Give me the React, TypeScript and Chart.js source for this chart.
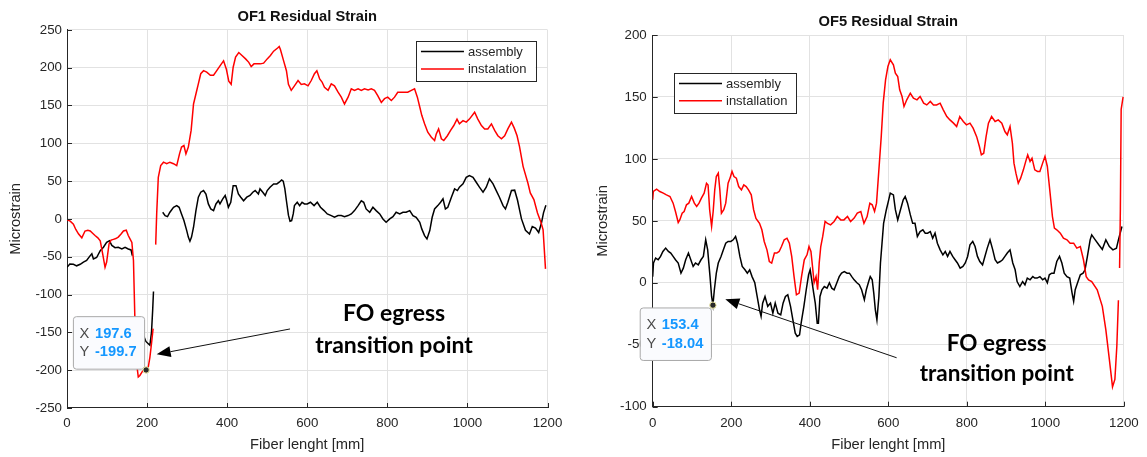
import React, { useEffect, useRef } from "react";
import { Chart, registerables } from "chart.js";

Chart.register(...registerables);

const AXIS_FONT = "'Liberation Sans', Arial, Helvetica, sans-serif";
const NOTE_FONT = "Lato, 'Open Sans', 'Noto Sans', sans-serif";
const INK = "#262626";
const GRID = "#e2e2e2";

// ---------------- shared axes ----------------
const X_TICKS = [0, 200, 400, 600, 800, 1000, 1200];
const X_LABEL = "Fiber lenght [mm]";
const Y_LABEL = "Microstrain";
const NOTE_LINES = ["FO egress", "transition point"];

// ---------------- OF1 ----------------
const OF1_TITLE = "OF1 Residual Strain";
const OF1_LABELS = ["assembly", "instalation"];
const OF1_Y_TICKS = [-250, -200, -150, -100, -50, 0, 50, 100, 150, 200, 250];
const OF1_TIP = [197.6, -199.7];

const OF1_ASSEMBLY_X = [
  0, 7, 16, 24, 33, 41, 49, 58, 62, 66,
  74, 83, 91, 99, 106, 112, 120, 128, 137, 145,
  153, 160, 163, 165, 192, 197, 203, 207, 211, 214,
  216, 228, 239, 245, 251, 257, 266, 274, 280, 286,
  292, 299, 303, 307, 311, 316, 322, 328, 334, 341,
  347, 353, 359, 366, 372, 378, 382, 389, 395, 399,
  403, 409, 415, 422, 428, 434, 441, 449, 457, 464,
  470, 478, 482, 489, 495, 500, 507, 516, 524, 530,
  536, 540, 544, 548, 553, 557, 561, 565, 568, 575,
  581, 587, 593, 600, 608, 617, 625, 633, 642, 650,
  660, 668, 677, 685, 693, 702, 710, 718, 727, 735,
  741, 747, 756, 764, 772, 781, 789, 797, 806, 814,
  822, 831, 839, 847, 856, 864, 872, 881, 886, 893,
  899, 906, 912, 918, 926, 933, 939, 945, 951, 960,
  968, 975, 980, 989, 997, 1005, 1014, 1022, 1030, 1039,
  1047, 1055, 1064, 1072, 1080, 1089, 1095, 1101, 1110, 1118,
  1125, 1135, 1145, 1155, 1162, 1170, 1178, 1185, 1190, 1196,
];
const OF1_ASSEMBLY_Y = [
  -64, -59.5, -60, -62, -60, -57, -55, -48.5, -46, -53,
  -51, -42, -37.5, -31, -29, -35, -38, -37.5, -39.7, -37.5,
  -39.7, -41, -48.5, null, -155, -162, -165, -167, -150, -120,
  -96, null, 8.8, 4.4, 3, 8.8, 15.4, 17.6, 15.4, 6.6,
  -2.2, -15.4, -24, -29.5, -24, -11, 11, 28.7, 35.3, 37.5,
  33, 19.8, 13.2, 11, 19.8, 24, 19.8, 26.5, 31, 24,
  15.4, 22, 44, 44, 33, 28.7, 24, 28.7, 31, 35.3,
  37.5, 33, 39.7, 35.3, 31, 37.5, 42, 46.3, 46.3, 48.5,
  51.6, 50, 40, 24, 5, -3, -2.2, 6.6, 17.6, 22,
  17.6, 22, 19.8, 19.8, 22, 17.6, 22, 15.4, 11, 6.6,
  4.4, 2.2, 4.4, 4.4, 3, 4.4, 6.6, 11, 17.6, 24,
  22, 13.2, 8.8, 15.4, 11, 6.6, 0, -4.4, 0, 3,
  8.8, 6.6, 8.8, 8.8, 11, 4.4, 2.2, -4.4, -13.2, -22,
  -26.5, -15.4, 2.2, 13.2, 17.6, 22, 26.5, 13.2, 15.4, 28.7,
  39.7, 37.5, 42, 46.3, 55, 57.3, 55, 48.5, 42, 35.3,
  42, 53, 46.3, 37.5, 28.7, 17.6, 13.2, 22, 37.5, 38,
  25, 0, -15, -20, -10, -12, -18, -5, 8, 18,
];

const OF1_INSTALL_X = [
  0, 8, 16, 22, 29, 37, 45, 52, 58, 64,
  70, 77, 83, 89, 95, 99, 105, 110, 116, 122,
  128, 135, 141, 148, 153, 158, 162, 166, 168, 170,
  173, 178, 182, 189, 197, 203, 207, 211, 215, 218,
  221.5, 224, 228, 234, 241, 249, 257, 266, 274, 281,
  286, 292, 297, 303, 310, 316, 323, 328, 334, 341,
  349, 358, 366, 374, 383, 391, 398, 404, 410, 415,
  421, 429, 437, 446, 454, 460, 467, 475, 483, 491,
  500, 508, 516, 526, 530, 533, 541, 548, 553, 560,
  568, 577, 585, 593, 602, 610, 618, 624, 631, 637,
  643, 652, 660, 668, 677, 685, 693, 702, 710, 718,
  727, 735, 743, 752, 760, 768, 776, 785, 793, 801,
  810, 818, 826, 835, 843, 851, 860, 868, 875, 881,
  886, 893, 901, 910, 918, 922, 928, 935, 941, 950,
  958, 966, 974, 980, 989, 997, 1005, 1018, 1026, 1035,
  1043, 1051, 1060, 1068, 1076, 1085, 1093, 1101, 1110, 1117,
  1124, 1130, 1139, 1151, 1157, 1166, 1175, 1184, 1189, 1195,
];
const OF1_INSTALL_Y = [
  -1, -3, -7, -14, -20, -25, -16, -15, -16, -19,
  -22, -25, -29, -46, -64, -57, -33, -28, -27, -26,
  -24, -20, -16, -15, -22, -27, -31, -55, -99, -143,
  -187, -209, -207, -201, -198, -196, -183, -165, -145, null,
  -34, 7, 55, 70.5, 75, 73, 75, 73, 70.5, 86,
  95, 97, 86, 95, 117, 152, 167.5, 178.6, 192, 196,
  194, 190, 190, 196, 203, 209, 198, 182, 178, 200.6,
  214, 220, 216, 211.6, 207, 201.5, 205, 205, 205, 206,
  211.6, 216, 221.8, 226, 228, 224, 209, 196, 178, 170,
  176, 183, 177.7, 178.6, 176, 183, 192, 196, 185, 181,
  174, 170, 178.6, 176, 167.5, 161, 152, 161, 172, 170,
  172, 170, 172, 170.6, 172, 170, 163, 154, 159, 161,
  156.5, 161, 167.5, 167.5, 167.5, 167.5, 170, 172, 161, 148,
  137, 125.7, 114.6, 108, 103.6, 112, 119, 106, 103.6, 110,
  117, 123.5, 132, 125.7, 130, 128, 132, 141, 132, 123.5,
  119, 119, 125.7, 117, 110, 106, 110, 119, 128, 120,
  110, 96, 69.5, 47.5, 34.3, 25.5, 7.9, -5, -14.5, -66,
];

// ---------------- OF5 ----------------
const OF5_TITLE = "OF5 Residual Strain";
const OF5_LABELS = ["assembly", "installation"];
const OF5_Y_TICKS = [-100, -50, 0, 50, 100, 150, 200];
const OF5_TIP = [153.4, -18.04];

const OF5_ASSEMBLY_X = [
  0, 2, 7.5, 14, 20, 26, 33, 40, 46, 52,
  58, 65, 72, 78, 84, 91, 97, 103, 109, 116,
  123, 129, 135, 140, 146, 150, 153.4, 157, 162, 167,
  174, 180, 186, 192, 199, 205, 211, 216, 222, 228,
  235, 241, 247, 253, 260, 266, 272, 276, 280, 286,
  293, 300, 306, 312, 319, 326, 332, 338, 344, 351,
  357, 363, 368, 374, 378, 385, 391, 397, 401, 405,
  410, 414, 419, 422, 426, 431, 437, 444, 450, 456,
  462, 469, 475, 481, 488, 495, 501, 507, 513, 520,
  526, 532, 539, 544, 550, 554, 559, 563, 567, 571,
  576, 580, 584, 588, 595, 601, 605, 613, 618, 624,
  631, 638, 643, 649, 656, 662, 668, 674, 681, 688,
  694, 700, 707, 713, 719, 725, 732, 739, 745, 751,
  757, 764, 770, 776, 783, 790, 796, 802, 808, 815,
  821, 827, 833, 840, 846, 852, 859, 866, 872, 878,
  885, 891, 897, 903, 910, 917, 923, 928, 935, 942,
  948, 954, 961, 968, 973, 979, 986, 993, 999, 1005,
  1010, 1016, 1022, 1029, 1036, 1042, 1048, 1055, 1062, 1068,
  1072, 1076, 1082, 1089, 1096, 1101, 1107, 1114, 1118, 1127,
  1136, 1145, 1154, 1163, 1172, 1181, 1186, 1195,
];
const OF5_ASSEMBLY_Y = [
  5, 16, 20, 18.6, 21.3, 25.3, 28, 25.3, 24, 21.3,
  18.6, 16, 7.8, 11.8, 18.6, 24, 18.6, 13.2, 16, 14.5,
  18.6, 21.3, 34.7, 26.6, 5, -11, -18.04, -5.6, 7.8, 16,
  21.3, 26.6, 32, 33.4, 33.4, 34.7, 37.4, 32, 21.3, 13.2,
  10.5, 7.8, 10.5, 5, 0, -11, -21.8, -27, -16.4, -11,
  -19, -16.4, -24.5, -16.4, -24.5, -25.8, -16.4, -11, -9.7, -19,
  -29.9, -40.6, -43.3, -42, -32.6, -19, -5.6, 6.5, 10.5, 2.4,
  -8.3, -16.4, -32.6, -32.6, -11, -5.6, -3, -4.3, 0, -4.3,
  -5.6, 0, 5, 7.8, 9.1, 7.8, 7.8, 5, 2.4, 0,
  -1.6, -5.6, -13.7, -5.6, 1, 5, 2.4, -8.3, -21.8, -29.9,
  -11, 16, 32, 48, 59, 67, 72.4, 71, 59, 50.8,
  59, 67, 69.7, 64.3, 55, 48, 48, 37.4, 41.4, 42.8,
  40.1, 40.1, 41.4, 36, 40.1, 32, 26.6, 22.6, 25.3, 21.3,
  25.3, 21.3, 18.6, 16, 11.8, 13.2, 16, 21.3, 30.7, 33.4,
  29.3, 21.3, 17.2, 14.5, 21.3, 28, 34.7, 26.6, 18.6, 16,
  17.2, 18.6, 21.3, 24, 26.6, 16, 10.5, 1, -3, 1,
  -1.6, 3.8, 2.4, 5, 3.8, 3.8, 5, 2.4, 3.8, 0,
  6.5, 7.8, 7.8, 17.2, 21.3, 16, 7.8, 5, 3.8, -8.3,
  -15, -5.6, 0, 6.5, 7.8, 10.5, 21.3, 34.7, 38.7, 34.7,
  30.7, 27, 34.7, 29.3, 26.6, 28, 34.7, 45.5,
];

const OF5_INSTALL_X = [
  0, 1.6, 10, 18, 27, 35, 44, 52, 58, 65,
  69, 75, 80, 86, 92, 99, 106, 112, 118, 124,
  131, 137, 141, 145, 150, 154, 158, 162, 167, 171,
  175, 181, 186, 192, 197, 202, 207, 213, 219, 226,
  232, 238, 244, 251, 257, 263, 272, 278, 284, 291,
  297, 303, 310, 316, 322, 328, 335, 342, 348, 354,
  360, 366, 373, 379, 386, 393, 398, 403, 407, 411,
  416, 420, 424, 428, 433, 439, 445, 453, 462, 470,
  479, 487, 496, 504, 513, 521, 530, 538, 546, 553,
  559, 565, 570, 576, 582, 587, 593, 599, 605, 613,
  618, 624, 629, 635, 640, 647, 656, 664, 673, 681,
  690, 698, 707, 715, 723, 732, 740, 749, 757, 766,
  774, 782, 791, 799, 808, 816, 825, 832, 837, 843,
  849, 855, 863, 872, 880, 889, 897, 903, 910, 916,
  920, 925, 931, 937, 944, 950, 955, 961, 966, 973,
  980, 986, 993, 999, 1005, 1012, 1018, 1023, 1029, 1038,
  1046, 1055, 1063, 1072, 1080, 1089, 1097, 1104, 1110, 1118,
  1132, 1145, 1154, 1163, 1171, 1177, 1182, 1186, 1187.5, 1189,
  1191, 1193, 1196, 1198,
];
const OF5_INSTALL_Y = [
  67, 73.7, 75.6, 73.7, 72.4, 71, 69.7, 64.3, 57.6, 48.7,
  50.8, 56.2, 57.6, 63, 64.3, 69.7, 64.3, 61.6, 64.3, 68.3,
  72.4, 80.4, 79, 59, 45.5, 57.6, 75, 85.8, 88.5, 75,
  56.2, 59, 64.3, 80.4, 84.5, 89.9, 85.8, 84.5, 77.7, 75,
  79, 77.7, 75, 71, 59, 52, 48, 42.8, 33.4, 26.6,
  17.2, 15.9, 24, 24, 25.3, 29.3, 34.7, 36, 32, 21.3,
  5, -9.7, -8.3, 5, 18.6, 22.6, 29.3, 25.3, 13.2, 0,
  5, -5.6, 15.9, 29.3, 37.4, 49.5, 48, 46.8, 49.5, 53.5,
  50.8, 50.8, 53.5, 49.5, 52.2, 56.2, 57.6, 48, 53.5, 64.3,
  63, 57.6, 64.3, 91.2, 118, 145, 163.8, 174.6, 180, 176,
  169.3, 166.5, 155.8, 150.4, 142.3, 147.7, 153, 149, 147.7, 150.4,
  145, 143.6, 146.4, 143.6, 143.6, 145, 139.6, 134.2, 131.5, 128.9,
  126.2, 134.2, 130.2, 127.5, 128.9, 124.8, 118, 110, 103.3, 104.6,
  118, 128.9, 134.2, 130.2, 131.5, 128.9, 122.1, 119.5, 126.2, 112.7,
  96.6, 88.5, 80.4, 84.5, 91.2, 98, 103.3, 98, 100.6, 91.2,
  89.9, 89.9, 96.6, 102, 93.9, 72.4, 53.5, 44.1, 42.8, 40.1,
  36, 34.7, 32, 32, 28, 29.3, 18.6, 5, 2.4, 1,
  -5.6, -19, -38, -62, -84, -78, -51, -14, null, 12,
  60, 140, 146, 150,
];

// ---------------- layout / styling (not data) ----------------
type Spec = {
  title: string;
  labels: string[];
  series: [number[], (number | null)[], string][];
  yTicks: number[];
  tip: number[];
  canvasW: number;
  axisW: number;
  padRight: number;
  titlePad: { top: number; bottom: number };
  axisH: number;
  xTickPad: number;
  yTickPad: number;
  yTitlePad: number;
  legend: { corner: "ne" | "nw"; dx: number; dy: number };
  tipPlace: "above" | "below";
  arrow: number[]; // data coords: from x, from y, to x, to y
  note: { x: number; ys: number[]; size: number };
};

const OF1_SPEC: Spec = {
  title: OF1_TITLE,
  labels: OF1_LABELS,
  series: [
    [OF1_ASSEMBLY_X, OF1_ASSEMBLY_Y, "#000000"],
    [OF1_INSTALL_X, OF1_INSTALL_Y, "#ff0000"],
  ],
  yTicks: OF1_Y_TICKS,
  tip: OF1_TIP,
  canvasW: 585,
  axisW: 67,
  padRight: 37.5,
  titlePad: { top: 8.2, bottom: 4 },
  axisH: 49,
  xTickPad: 7,
  yTickPad: 5,
  yTitlePad: 7.5,
  legend: { corner: "ne", dx: 12, dy: 11 },
  tipPlace: "above",
  arrow: [557, -145.5, 224, -179],
  note: { x: 816.7, ys: [-134.5, -177.2], size: 23 },
};

const OF5_SPEC: Spec = {
  title: OF5_TITLE,
  labels: OF5_LABELS,
  series: [
    [OF5_ASSEMBLY_X, OF5_ASSEMBLY_Y, "#000000"],
    [OF5_INSTALL_X, OF5_INSTALL_Y, "#ff0000"],
  ],
  yTicks: OF5_Y_TICKS,
  tip: OF5_TIP,
  canvasW: 562,
  axisW: 67.7,
  padRight: 20.5,
  titlePad: { top: 13.4, bottom: 4 },
  axisH: 50.3,
  xTickPad: 8.3,
  yTickPad: 6,
  yTitlePad: 9,
  legend: { corner: "nw", dx: 21.3, dy: 37.7 },
  tipPlace: "below",
  arrow: [621.2, -60.5, 184.9, -13.2],
  note: { x: 876.2, ys: [-55.4, -79.1], size: 22.5 },
};

function pts(xs: number[], ys: (number | null)[]) {
  return xs.map((x, i) => ({ x, y: ys[i] }));
}

function notesPlugin(spec: Spec) {
  return {
    id: "notes",
    afterDraw(chart: any) {
      const { ctx, chartArea: a } = chart;
      const xs = chart.scales.x;
      const ys = chart.scales.y;
      ctx.save();

      // inward tick marks (MATLAB style)
      ctx.strokeStyle = INK;
      ctx.lineWidth = 1;
      ctx.beginPath();
      xs.ticks.forEach((t: any) => {
        const p = Math.round(xs.getPixelForValue(t.value)) + 0.5;
        ctx.moveTo(p, a.bottom);
        ctx.lineTo(p, a.bottom - 5);
      });
      ys.ticks.forEach((t: any) => {
        const p = Math.round(ys.getPixelForValue(t.value)) + 0.5;
        ctx.moveTo(a.left, p);
        ctx.lineTo(a.left + 5, p);
      });
      ctx.stroke();

      // legend
      ctx.font = `13px ${AXIS_FONT}`;
      const ds = chart.data.datasets;
      const tw = Math.max(...ds.map((d: any) => ctx.measureText(d.label).width));
      const lw = 5 + 43 + 4 + tw + 9;
      const lh = 40;
      const lx = spec.legend.corner === "ne" ? a.right - spec.legend.dx - lw : a.left + spec.legend.dx;
      const ly = a.top + spec.legend.dy;
      ctx.fillStyle = "#ffffff";
      ctx.fillRect(lx, ly, lw, lh);
      ctx.strokeStyle = INK;
      ctx.lineWidth = 1;
      ctx.strokeRect(Math.round(lx) + 0.5, Math.round(ly) + 0.5, Math.round(lw), Math.round(lh));
      ds.forEach((d: any, i: number) => {
        const ry = ly + 10.7 + i * 17.4;
        ctx.strokeStyle = d.borderColor;
        ctx.lineWidth = 1.5;
        ctx.beginPath();
        ctx.moveTo(lx + 5, ry);
        ctx.lineTo(lx + 48, ry);
        ctx.stroke();
        ctx.fillStyle = INK;
        ctx.textAlign = "left";
        ctx.textBaseline = "middle";
        ctx.fillText(d.label, lx + 52, ry + 0.5);
      });

      // arrow
      const [fx, fy, tx, ty] = spec.arrow;
      const x0 = xs.getPixelForValue(fx);
      const y0 = ys.getPixelForValue(fy);
      const x1 = xs.getPixelForValue(tx);
      const y1 = ys.getPixelForValue(ty);
      const ang = Math.atan2(y1 - y0, x1 - x0);
      const hl = 14;
      const hw = 5.5;
      const bx = x1 - hl * Math.cos(ang);
      const by = y1 - hl * Math.sin(ang);
      ctx.strokeStyle = "#111111";
      ctx.lineWidth = 1;
      ctx.beginPath();
      ctx.moveTo(x0, y0);
      ctx.lineTo(bx, by);
      ctx.stroke();
      ctx.fillStyle = "#000000";
      ctx.beginPath();
      ctx.moveTo(x1, y1);
      ctx.lineTo(bx + hw * Math.sin(ang), by - hw * Math.cos(ang));
      ctx.lineTo(bx - hw * Math.sin(ang), by + hw * Math.cos(ang));
      ctx.closePath();
      ctx.fill();

      // note text
      ctx.fillStyle = "#000000";
      ctx.font = `bold ${spec.note.size}px ${NOTE_FONT}`;
      ctx.textAlign = "center";
      ctx.textBaseline = "alphabetic";
      const nx = xs.getPixelForValue(spec.note.x);
      NOTE_LINES.forEach((t, i) => ctx.fillText(t, nx, ys.getPixelForValue(spec.note.ys[i])));

      // data tip
      const [tipX, tipY] = spec.tip;
      const px = xs.getPixelForValue(tipX);
      const py = ys.getPixelForValue(tipY);
      const rows = [
        ["X", String(tipX)],
        ["Y", String(tipY)],
      ];
      ctx.font = `14.7px ${AXIS_FONT}`;
      const kw = ctx.measureText("X ").width + 1.5;
      ctx.font = `bold 14.7px ${AXIS_FONT}`;
      const vw = Math.max(...rows.map((r) => ctx.measureText(r[1]).width));
      const bw = 6.7 + kw + vw + 7.5;
      const bh = 52.5;
      const bx0 = px - 2 - bw;
      const by0 = spec.tipPlace === "above" ? py - 1.3 - bh : py + 2.3;
      ctx.beginPath();
      if (ctx.roundRect) ctx.roundRect(bx0 + 0.5, by0 + 0.5, bw, bh, 3);
      else ctx.rect(bx0 + 0.5, by0 + 0.5, bw, bh);
      ctx.fillStyle = "#fafbfe";
      ctx.fill();
      ctx.strokeStyle = "#a9a9a9";
      ctx.lineWidth = 1;
      ctx.stroke();
      ctx.textAlign = "left";
      ctx.textBaseline = "middle";
      rows.forEach((r, i) => {
        const cy = by0 + 17.6 + i * 18.4;
        ctx.font = `14.7px ${AXIS_FONT}`;
        ctx.fillStyle = "#4a4a4a";
        ctx.fillText(r[0], bx0 + 6.7, cy);
        ctx.font = `bold 14.7px ${AXIS_FONT}`;
        ctx.fillStyle = "#1497ff";
        ctx.fillText(r[1], bx0 + 6.7 + kw, cy);
      });
      ctx.beginPath();
      ctx.arc(px, py, 3.2, 0, Math.PI * 2);
      ctx.fillStyle = "#2a2a2a";
      ctx.fill();
      ctx.strokeStyle = "#f3eea8";
      ctx.lineWidth = 1;
      ctx.stroke();

      ctx.restore();
    },
  };
}

function makeConfig(spec: Spec): any {
  const yMin = spec.yTicks[0];
  const yMax = spec.yTicks[spec.yTicks.length - 1];
  return {
    type: "line",
    data: {
      datasets: spec.series.map(([xs, ys, color], i) => ({
        label: spec.labels[i],
        data: pts(xs, ys),
        borderColor: color,
        backgroundColor: color,
        borderWidth: 1.5,
        pointRadius: 0,
        pointHoverRadius: 0,
        spanGaps: false,
        tension: 0,
        fill: false,
        order: spec.series.length - i,
      })),
    },
    options: {
      responsive: false,
      maintainAspectRatio: false,
      animation: false,
      devicePixelRatio: 1,
      events: [],
      layout: { padding: { left: 0, top: 0, bottom: 0, right: spec.padRight } },
      plugins: {
        legend: { display: false },
        tooltip: { enabled: false },
        title: {
          display: true,
          text: spec.title,
          fullSize: false,
          color: "#111111",
          font: { family: AXIS_FONT, size: 14.7, weight: "bold", lineHeight: 1.2 },
          padding: spec.titlePad,
        },
      },
      scales: {
        x: {
          type: "linear",
          min: X_TICKS[0],
          max: X_TICKS[X_TICKS.length - 1],
          afterBuildTicks: (s: any) => {
            s.ticks = X_TICKS.map((v) => ({ value: v }));
          },
          afterFit: (s: any) => {
            s.height = spec.axisH;
          },
          ticks: {
            callback: (v: any) => String(v),
            color: INK,
            font: { family: AXIS_FONT, size: 13.3, lineHeight: 1.2 },
            padding: spec.xTickPad,
            maxRotation: 0,
            autoSkip: false,
          },
          grid: { color: GRID, drawTicks: false, lineWidth: 1 },
          border: { display: true, color: INK, width: 1 },
          title: {
            display: true,
            text: X_LABEL,
            color: INK,
            font: { family: AXIS_FONT, size: 14.7, lineHeight: 1.2 },
            padding: { top: 0, bottom: 3 },
          },
        },
        y: {
          type: "linear",
          min: yMin,
          max: yMax,
          afterBuildTicks: (s: any) => {
            s.ticks = spec.yTicks.map((v) => ({ value: v }));
          },
          afterFit: (s: any) => {
            s.width = spec.axisW;
          },
          ticks: {
            callback: (v: any) => String(v),
            color: INK,
            font: { family: AXIS_FONT, size: 13.3, lineHeight: 1.2 },
            padding: spec.yTickPad,
            autoSkip: false,
          },
          grid: { color: GRID, drawTicks: false, lineWidth: 1 },
          border: { display: true, color: INK, width: 1 },
          title: {
            display: true,
            text: Y_LABEL,
            color: INK,
            font: { family: AXIS_FONT, size: 14.7, lineHeight: 1.2 },
            padding: { top: spec.yTitlePad, bottom: 0 },
          },
        },
      },
    },
    plugins: [notesPlugin(spec)],
  };
}

export default function App() {
  const leftRef = useRef<HTMLCanvasElement>(null);
  const rightRef = useRef<HTMLCanvasElement>(null);

  useEffect(() => {
    const c1 = new Chart(leftRef.current as HTMLCanvasElement, makeConfig(OF1_SPEC));
    const c2 = new Chart(rightRef.current as HTMLCanvasElement, makeConfig(OF5_SPEC));
    return () => {
      c1.destroy();
      c2.destroy();
    };
  }, []);

  return (
    <div
      style={{
        position: "fixed",
        left: 0,
        top: 0,
        width: 1147,
        height: 457,
        background: "#ffffff",
        overflow: "hidden",
      }}
    >
      <canvas
        ref={leftRef}
        width={OF1_SPEC.canvasW}
        height={457}
        style={{ position: "absolute", left: 0, top: 0, width: OF1_SPEC.canvasW, height: 457 }}
      />
      <canvas
        ref={rightRef}
        width={OF5_SPEC.canvasW}
        height={457}
        style={{ position: "absolute", left: OF1_SPEC.canvasW, top: 0, width: OF5_SPEC.canvasW, height: 457 }}
      />
    </div>
  );
}
